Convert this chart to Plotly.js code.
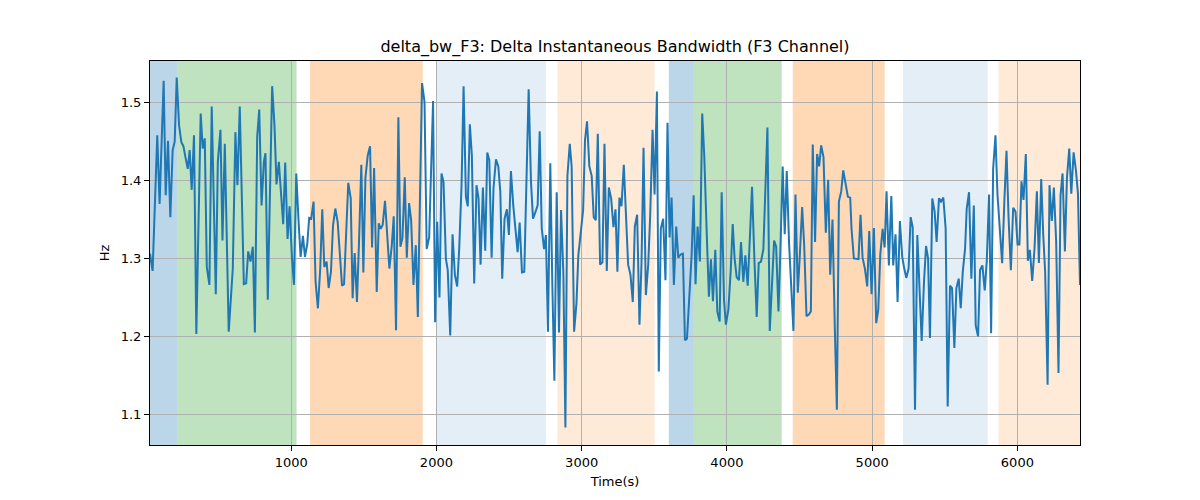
<!DOCTYPE html>
<html>
<head>
<meta charset="utf-8">
<script src="https://cdn.plot.ly/plotly-3.0.1.min.js"></script>
<style>
  body { margin: 0; background: #fff; }
  #chart { width: 1200px; height: 500px; }
</style>
</head>
<body>
<div id="chart"></div>
<script>
// time (s) and delta bandwidth (Hz)
var time = [28,46,78,94,122,136,152,168,184,198,212,228,244,258,272,288,301,315,331,347,377,391,405,419,437,453,481,495,513,527,543,570,598,616,630,646,674,690,704,720,736,750,766,780,796,812,
  823,839,869,885,899,915,931,945,959,975,989,1005,1019,1035,1051,1065,1081,1095,1111,1124,1138,1154,1168,1184,1200,1214,1228,1244,1258,1274,1288,1304,1320,1334,1350,1364,1377,1393,1410,1423,1437,1453,1467,1483,1497,1511,1527,1543,1557,1571,1589,1603,1616,
  1630,1646,1660,1676,1692,1706,1722,1738,1752,1766,1782,1796,1812,1826,1842,1858,1872,1888,1901,1918,1933,1950,1964,1977,1991,2005,2021,2035,2049,2065,2078,2095,2111,2127,2143,2157,2173,2187,2203,2216,2230,2244,2260,2276,2290,2304,2320,2336,2350,2364,2380,2393,2410,
  2426,2440,2453,2469,2485,2499,2513,2529,2545,2559,2573,2589,2605,2619,2635,2651,2665,2681,2697,2711,2725,2741,2754,2768,2784,2798,2812,2828,2844,2858,2874,2888,2902,2918,2931,2948,2964,2977,2994,3010,3023,3037,3053,3069,3083,3097,3111,3127,3143,3157,3173,3187,3203,3219,
  3233,3246,3260,3274,3290,3306,3320,3336,3352,3366,3382,3398,3412,3426,3442,3458,3472,3488,3502,3518,3531,3545,3561,3577,3591,3605,3619,3635,3651,3665,3681,3697,3711,3725,3741,3757,3771,3784,3798,3814,3830,3844,3860,3876,3890,3904,3920,3934,3950,3964,3980,3993,4010,4026,
  4040,4053,4067,4083,4097,4113,4127,4143,4159,4173,4189,4205,4219,4235,4251,4265,4279,4295,4309,4325,4339,4355,4368,4384,4398,4412,4428,4444,4458,4472,4488,4502,4518,4532,4548,4564,4578,4591,4607,4621,4635,4649,4665,4681,4697,4711,4727,4743,4757,4771,4787,4801,4817,4833,4849,
  4858,4874,4890,4906,4920,4934,4950,4966,4980,4996,5012,5028,5042,5056,5072,5086,5099,5115,5132,5145,5161,5175,5191,5207,5221,5235,5251,5265,5279,5295,5311,5325,5341,5357,5371,5385,5398,5414,5430,5444,5460,5474,5490,5506,5520,5536,5550,5566,5580,5596,5610,5624,5640,
  5651,5667,5683,5700,5713,5729,5743,5759,5775,5789,5805,5819,5833,5849,5863,5879,5895,5911,5925,5939,5955,5971,5987,6001,6014,6028,6042,6058,6072,6086,6102,6118,6134,6148,6164,6178,6191,6208,6221,6237,6251,6267,6283,6297,6311,6327,6341,6357,6371,6387,6403,6417,6431];
var deltaBw = [1.306,1.284,1.458,1.370,1.528,1.381,1.451,1.353,1.439,1.450,1.532,1.471,1.449,1.444,1.430,1.415,1.439,1.388,1.458,1.203,1.486,1.441,1.454,1.289,1.266,1.495,1.254,1.424,1.465,1.323,1.447,1.206,1.287,1.462,1.394,1.495,1.267,1.268,1.309,1.296,1.315,1.205,1.456,1.491,1.368,1.424,
  1.435,1.247,1.521,1.471,1.395,1.424,1.381,1.344,1.423,1.325,1.367,1.302,1.266,1.409,1.347,1.302,1.329,1.302,1.319,1.352,1.351,1.373,1.270,1.236,1.287,1.363,1.289,1.296,1.262,1.283,1.342,1.364,1.347,1.304,1.265,1.267,1.321,1.397,1.377,1.249,1.307,1.244,1.321,1.420,1.282,1.403,1.432,1.444,1.314,1.416,1.257,1.345,1.338,
  1.343,1.374,1.330,1.287,1.315,1.354,1.208,1.481,1.315,1.326,1.404,1.301,1.371,1.349,1.266,1.317,1.225,1.377,1.525,1.501,1.312,1.327,1.437,1.502,1.218,1.347,1.250,1.409,1.398,1.300,1.285,1.201,1.331,1.279,1.264,1.313,1.394,1.521,1.379,1.367,1.472,1.432,1.268,1.394,1.377,1.292,1.391,1.310,1.436,1.426,1.301,1.390,1.427,
  1.418,1.385,1.274,1.351,1.363,1.330,1.412,1.368,1.338,1.308,1.346,1.282,1.283,1.390,1.517,1.398,1.351,1.359,1.368,1.463,1.339,1.312,1.330,1.206,1.422,1.266,1.143,1.385,1.205,1.362,1.281,1.083,1.406,1.447,1.418,1.206,1.242,1.304,1.334,1.362,1.452,1.476,1.418,1.406,1.353,1.349,1.460,1.292,1.295,1.447,1.284,1.391,1.377,1.340,
  1.363,1.283,1.378,1.367,1.420,1.360,1.292,1.279,1.244,1.341,1.356,1.215,1.294,1.442,1.253,1.291,1.356,1.465,1.382,1.514,1.155,1.338,1.351,1.272,1.474,1.327,1.378,1.266,1.341,1.301,1.305,1.306,1.195,1.197,1.253,1.304,1.381,1.267,1.341,1.296,1.486,1.432,1.338,1.251,1.299,1.245,1.311,1.232,1.219,1.385,1.247,1.215,1.234,1.284,
  1.344,1.300,1.276,1.272,1.321,1.270,1.304,1.265,1.330,1.392,1.300,1.225,1.294,1.296,1.312,1.398,1.468,1.207,1.262,1.323,1.315,1.232,1.309,1.418,1.331,1.412,1.319,1.262,1.207,1.382,1.256,1.304,1.366,1.317,1.226,1.228,1.232,1.446,1.321,1.434,1.418,1.445,1.430,1.333,1.401,1.279,1.350,1.210,1.106,1.373,1.386,1.413,1.394,1.379,1.378,
  1.338,1.300,1.299,1.299,1.356,1.301,1.287,1.264,1.335,1.254,1.339,1.217,1.234,1.305,1.338,1.314,1.386,1.291,1.380,1.291,1.331,1.244,1.348,1.302,1.287,1.275,1.287,1.353,1.340,1.106,1.330,1.262,1.194,1.270,1.316,1.300,1.198,1.377,1.360,1.321,1.377,1.373,1.378,1.338,1.110,1.265,1.262,1.185,1.262,1.274,1.236,1.283,1.313,
  1.364,1.385,1.274,1.368,1.214,1.200,1.285,1.291,1.259,1.296,1.382,1.204,1.415,1.458,1.381,1.334,1.294,1.377,1.438,1.353,1.285,1.365,1.360,1.318,1.318,1.399,1.375,1.434,1.297,1.311,1.271,1.313,1.386,1.294,1.402,1.330,1.283,1.138,1.394,1.348,1.391,1.321,1.153,1.381,1.409,1.309,1.403,1.441,1.383,1.436,1.413,1.383,1.266];

// shaded segments
var spanStart = [28, 217, 1129, 1998, 2833, 3600, 3768, 4453, 5212, 5869];
var spanEnd   = [217, 1037, 1906, 2754, 3502, 3768, 4377, 5086, 5796, 6431];
var spanColor = ['rgba(31,119,180,0.3)', 'rgba(44,160,44,0.3)', 'rgba(255,127,14,0.3)', 'rgba(31,119,180,0.12)', 'rgba(255,127,14,0.16)',
                 'rgba(31,119,180,0.3)', 'rgba(44,160,44,0.3)', 'rgba(255,127,14,0.3)', 'rgba(31,119,180,0.12)', 'rgba(255,127,14,0.16)'];

var shapes = [];
for (var i = 0; i < spanStart.length; i++) {
  shapes.push({
    type: 'rect', xref: 'x', yref: 'paper',
    x0: spanStart[i], x1: spanEnd[i], y0: 0, y1: 1,
    fillcolor: spanColor[i], line: {width: 0}, layer: 'below'
  });
}

var data = [{
  x: time,
  y: deltaBw,
  type: 'scatter',
  mode: 'lines',
  line: {color: '#1f77b4', width: 2},
  hoverinfo: 'none'
}];

var font = {family: 'DejaVu Sans, sans-serif', size: 13, color: '#000'};

var layout = {
  width: 1200, height: 500,
  margin: {l: 150, r: 120, t: 61, b: 55},
  paper_bgcolor: '#fff',
  plot_bgcolor: 'rgba(0,0,0,0)',
  font: font,
  showlegend: false,
  title: {
    text: 'delta_bw_F3: Delta Instantaneous Bandwidth (F3 Channel)',
    font: {family: 'DejaVu Sans, sans-serif', size: 16, color: '#000'},
    x: 0.5, xref: 'paper', y: 0.908, yref: 'container', yanchor: 'middle'
  },
  xaxis: {
    range: [28, 6431],
    tickvals: [1000, 2000, 3000, 4000, 5000, 6000],
    showgrid: true, gridcolor: '#b0b0b0', gridwidth: 1,
    zeroline: false,
    showline: true, linecolor: '#000', linewidth: 1, mirror: true,
    ticks: 'outside', ticklen: 5, tickcolor: '#000',
    tickfont: font,
    title: {text: 'Time(s)', font: font, standoff: 8},
    automargin: false
  },
  yaxis: {
    range: [1.0606, 1.5533],
    tickvals: [1.1, 1.2, 1.3, 1.4, 1.5],
    ticktext: ['1.1', '1.2', '1.3', '1.4', '1.5'],
    showgrid: true, gridcolor: '#b0b0b0', gridwidth: 1,
    zeroline: false,
    showline: true, linecolor: '#000', linewidth: 1, mirror: true,
    ticks: 'outside', ticklen: 5, tickcolor: '#000',
    tickfont: font,
    title: {text: 'Hz', font: font, standoff: 8},
    automargin: false
  },
  shapes: shapes
};

Plotly.newPlot('chart', data, layout, {displayModeBar: false, staticPlot: true});
</script>
</body>
</html>
